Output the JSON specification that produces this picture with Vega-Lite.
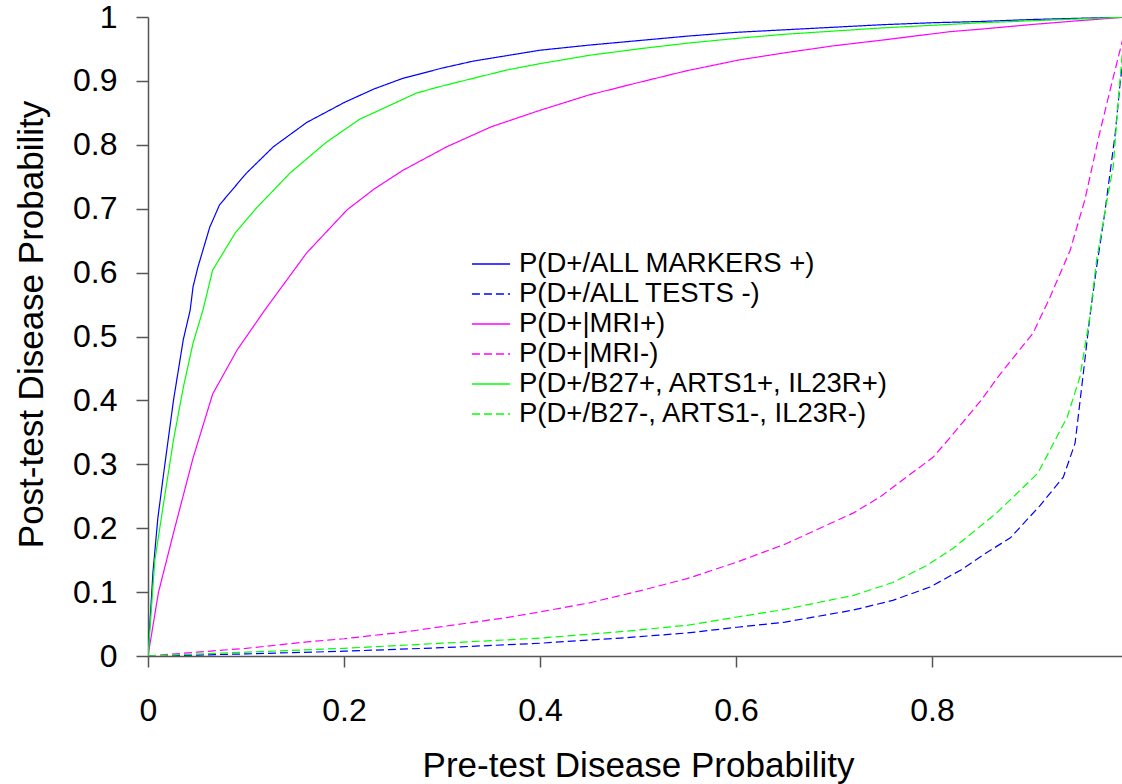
{
  "$schema": "https://vega.github.io/schema/vega-lite/v6.json",
  "autosize": {"type": "none"},
  "padding": {"left": 148, "top": 17, "right": 0, "bottom": 128},
  "width": 974,
  "height": 639,
  "background": "white",
  "config": {
    "view": {"stroke": null},
    "font": "Liberation Sans",
    "axis": {
      "domainColor": "#555555",
      "tickColor": "#555555",
      "domainWidth": 1.5,
      "tickWidth": 1.5,
      "grid": false,
      "labelFont": "Liberation Sans",
      "labelFontSize": 32,
      "labelColor": "black",
      "titleFont": "Liberation Sans",
      "titleFontSize": 35,
      "titleFontWeight": "normal",
      "titleColor": "black"
    },
    "legend": {
      "labelFont": "Liberation Sans",
      "labelFontSize": 27.5,
      "labelColor": "black",
      "labelLimit": 1000,
      "symbolType": "M-1.27,0H1.27",
      "symbolSize": 900,
      "symbolStrokeWidth": 1.3,
      "labelOffset": 12,
      "rowPadding": 0,
      "padding": 0
    }
  },
  "data": {
    "values": [
      {"s": "P(D+/ALL MARKERS +)", "p": 0, "q": 0},
      {"s": "P(D+/ALL MARKERS +)", "p": 0.005, "q": 0.13},
      {"s": "P(D+/ALL MARKERS +)", "p": 0.01, "q": 0.215},
      {"s": "P(D+/ALL MARKERS +)", "p": 0.016, "q": 0.286},
      {"s": "P(D+/ALL MARKERS +)", "p": 0.026, "q": 0.4},
      {"s": "P(D+/ALL MARKERS +)", "p": 0.036, "q": 0.495},
      {"s": "P(D+/ALL MARKERS +)", "p": 0.043, "q": 0.541},
      {"s": "P(D+/ALL MARKERS +)", "p": 0.046, "q": 0.578},
      {"s": "P(D+/ALL MARKERS +)", "p": 0.051, "q": 0.609},
      {"s": "P(D+/ALL MARKERS +)", "p": 0.063, "q": 0.671},
      {"s": "P(D+/ALL MARKERS +)", "p": 0.073, "q": 0.706},
      {"s": "P(D+/ALL MARKERS +)", "p": 0.1, "q": 0.755},
      {"s": "P(D+/ALL MARKERS +)", "p": 0.128, "q": 0.797},
      {"s": "P(D+/ALL MARKERS +)", "p": 0.162, "q": 0.835},
      {"s": "P(D+/ALL MARKERS +)", "p": 0.2, "q": 0.866},
      {"s": "P(D+/ALL MARKERS +)", "p": 0.23, "q": 0.887},
      {"s": "P(D+/ALL MARKERS +)", "p": 0.26, "q": 0.904},
      {"s": "P(D+/ALL MARKERS +)", "p": 0.3, "q": 0.92},
      {"s": "P(D+/ALL MARKERS +)", "p": 0.332, "q": 0.931},
      {"s": "P(D+/ALL MARKERS +)", "p": 0.4, "q": 0.948},
      {"s": "P(D+/ALL MARKERS +)", "p": 0.45, "q": 0.956},
      {"s": "P(D+/ALL MARKERS +)", "p": 0.5, "q": 0.963},
      {"s": "P(D+/ALL MARKERS +)", "p": 0.55, "q": 0.97},
      {"s": "P(D+/ALL MARKERS +)", "p": 0.6, "q": 0.976},
      {"s": "P(D+/ALL MARKERS +)", "p": 0.65, "q": 0.98},
      {"s": "P(D+/ALL MARKERS +)", "p": 0.7, "q": 0.984},
      {"s": "P(D+/ALL MARKERS +)", "p": 0.75, "q": 0.988},
      {"s": "P(D+/ALL MARKERS +)", "p": 0.8, "q": 0.991},
      {"s": "P(D+/ALL MARKERS +)", "p": 0.85, "q": 0.993},
      {"s": "P(D+/ALL MARKERS +)", "p": 0.9, "q": 0.996},
      {"s": "P(D+/ALL MARKERS +)", "p": 0.95, "q": 0.998},
      {"s": "P(D+/ALL MARKERS +)", "p": 1, "q": 1},

      {"s": "P(D+/ALL TESTS -)", "p": 0, "q": 0},
      {"s": "P(D+/ALL TESTS -)", "p": 0.05, "q": 0.0015},
      {"s": "P(D+/ALL TESTS -)", "p": 0.1, "q": 0.0033},
      {"s": "P(D+/ALL TESTS -)", "p": 0.2, "q": 0.0075},
      {"s": "P(D+/ALL TESTS -)", "p": 0.3, "q": 0.013},
      {"s": "P(D+/ALL TESTS -)", "p": 0.4, "q": 0.02},
      {"s": "P(D+/ALL TESTS -)", "p": 0.482, "q": 0.028},
      {"s": "P(D+/ALL TESTS -)", "p": 0.55, "q": 0.036},
      {"s": "P(D+/ALL TESTS -)", "p": 0.601, "q": 0.045},
      {"s": "P(D+/ALL TESTS -)", "p": 0.65, "q": 0.053},
      {"s": "P(D+/ALL TESTS -)", "p": 0.72, "q": 0.072},
      {"s": "P(D+/ALL TESTS -)", "p": 0.76, "q": 0.087},
      {"s": "P(D+/ALL TESTS -)", "p": 0.798, "q": 0.108},
      {"s": "P(D+/ALL TESTS -)", "p": 0.83, "q": 0.135},
      {"s": "P(D+/ALL TESTS -)", "p": 0.856, "q": 0.162},
      {"s": "P(D+/ALL TESTS -)", "p": 0.88, "q": 0.185},
      {"s": "P(D+/ALL TESTS -)", "p": 0.91, "q": 0.235},
      {"s": "P(D+/ALL TESTS -)", "p": 0.934, "q": 0.28},
      {"s": "P(D+/ALL TESTS -)", "p": 0.946, "q": 0.333},
      {"s": "P(D+/ALL TESTS -)", "p": 0.954, "q": 0.437},
      {"s": "P(D+/ALL TESTS -)", "p": 0.961, "q": 0.53},
      {"s": "P(D+/ALL TESTS -)", "p": 0.968, "q": 0.609},
      {"s": "P(D+/ALL TESTS -)", "p": 0.976, "q": 0.69},
      {"s": "P(D+/ALL TESTS -)", "p": 0.987, "q": 0.818},
      {"s": "P(D+/ALL TESTS -)", "p": 0.992, "q": 0.897},
      {"s": "P(D+/ALL TESTS -)", "p": 1, "q": 1},

      {"s": "P(D+|MRI+)", "p": 0, "q": 0},
      {"s": "P(D+|MRI+)", "p": 0.0106, "q": 0.099},
      {"s": "P(D+|MRI+)", "p": 0.0259, "q": 0.192},
      {"s": "P(D+|MRI+)", "p": 0.046, "q": 0.31},
      {"s": "P(D+|MRI+)", "p": 0.066, "q": 0.41},
      {"s": "P(D+|MRI+)", "p": 0.091, "q": 0.479},
      {"s": "P(D+|MRI+)", "p": 0.119, "q": 0.541},
      {"s": "P(D+|MRI+)", "p": 0.162, "q": 0.631},
      {"s": "P(D+|MRI+)", "p": 0.203, "q": 0.698},
      {"s": "P(D+|MRI+)", "p": 0.23, "q": 0.73},
      {"s": "P(D+|MRI+)", "p": 0.26, "q": 0.76},
      {"s": "P(D+|MRI+)", "p": 0.305, "q": 0.797},
      {"s": "P(D+|MRI+)", "p": 0.35, "q": 0.828},
      {"s": "P(D+|MRI+)", "p": 0.4, "q": 0.854},
      {"s": "P(D+|MRI+)", "p": 0.45, "q": 0.878},
      {"s": "P(D+|MRI+)", "p": 0.502, "q": 0.898},
      {"s": "P(D+|MRI+)", "p": 0.55, "q": 0.916},
      {"s": "P(D+|MRI+)", "p": 0.604, "q": 0.933},
      {"s": "P(D+|MRI+)", "p": 0.65, "q": 0.944},
      {"s": "P(D+|MRI+)", "p": 0.7, "q": 0.955},
      {"s": "P(D+|MRI+)", "p": 0.75, "q": 0.964},
      {"s": "P(D+|MRI+)", "p": 0.818, "q": 0.977},
      {"s": "P(D+|MRI+)", "p": 0.85, "q": 0.981},
      {"s": "P(D+|MRI+)", "p": 0.9, "q": 0.988},
      {"s": "P(D+|MRI+)", "p": 0.948, "q": 0.994},
      {"s": "P(D+|MRI+)", "p": 1, "q": 1},

      {"s": "P(D+|MRI-)", "p": 0, "q": 0},
      {"s": "P(D+|MRI-)", "p": 0.05, "q": 0.006},
      {"s": "P(D+|MRI-)", "p": 0.1, "q": 0.012},
      {"s": "P(D+|MRI-)", "p": 0.162, "q": 0.022},
      {"s": "P(D+|MRI-)", "p": 0.2, "q": 0.027},
      {"s": "P(D+|MRI-)", "p": 0.264, "q": 0.038},
      {"s": "P(D+|MRI-)", "p": 0.3, "q": 0.046},
      {"s": "P(D+|MRI-)", "p": 0.366, "q": 0.06},
      {"s": "P(D+|MRI-)", "p": 0.4, "q": 0.069},
      {"s": "P(D+|MRI-)", "p": 0.45, "q": 0.083},
      {"s": "P(D+|MRI-)", "p": 0.502, "q": 0.102},
      {"s": "P(D+|MRI-)", "p": 0.55, "q": 0.121},
      {"s": "P(D+|MRI-)", "p": 0.601, "q": 0.147},
      {"s": "P(D+|MRI-)", "p": 0.65, "q": 0.175},
      {"s": "P(D+|MRI-)", "p": 0.72, "q": 0.224},
      {"s": "P(D+|MRI-)", "p": 0.747, "q": 0.249},
      {"s": "P(D+|MRI-)", "p": 0.801, "q": 0.311},
      {"s": "P(D+|MRI-)", "p": 0.818, "q": 0.341},
      {"s": "P(D+|MRI-)", "p": 0.85, "q": 0.4},
      {"s": "P(D+|MRI-)", "p": 0.869, "q": 0.44},
      {"s": "P(D+|MRI-)", "p": 0.903, "q": 0.505},
      {"s": "P(D+|MRI-)", "p": 0.92, "q": 0.56},
      {"s": "P(D+|MRI-)", "p": 0.941, "q": 0.635},
      {"s": "P(D+|MRI-)", "p": 0.956, "q": 0.714},
      {"s": "P(D+|MRI-)", "p": 0.971, "q": 0.818},
      {"s": "P(D+|MRI-)", "p": 0.985, "q": 0.906},
      {"s": "P(D+|MRI-)", "p": 0.994, "q": 0.961},
      {"s": "P(D+|MRI-)", "p": 1, "q": 1},

      {"s": "P(D+/B27+, ARTS1+, IL23R+)", "p": 0, "q": 0},
      {"s": "P(D+/B27+, ARTS1+, IL23R+)", "p": 0.007, "q": 0.15},
      {"s": "P(D+/B27+, ARTS1+, IL23R+)", "p": 0.015, "q": 0.23},
      {"s": "P(D+/B27+, ARTS1+, IL23R+)", "p": 0.026, "q": 0.338},
      {"s": "P(D+/B27+, ARTS1+, IL23R+)", "p": 0.036, "q": 0.42},
      {"s": "P(D+/B27+, ARTS1+, IL23R+)", "p": 0.046, "q": 0.49},
      {"s": "P(D+/B27+, ARTS1+, IL23R+)", "p": 0.056, "q": 0.541},
      {"s": "P(D+/B27+, ARTS1+, IL23R+)", "p": 0.066, "q": 0.604},
      {"s": "P(D+/B27+, ARTS1+, IL23R+)", "p": 0.089, "q": 0.662},
      {"s": "P(D+/B27+, ARTS1+, IL23R+)", "p": 0.11, "q": 0.7},
      {"s": "P(D+/B27+, ARTS1+, IL23R+)", "p": 0.145, "q": 0.756},
      {"s": "P(D+/B27+, ARTS1+, IL23R+)", "p": 0.182, "q": 0.804},
      {"s": "P(D+/B27+, ARTS1+, IL23R+)", "p": 0.216, "q": 0.84},
      {"s": "P(D+/B27+, ARTS1+, IL23R+)", "p": 0.25, "q": 0.864},
      {"s": "P(D+/B27+, ARTS1+, IL23R+)", "p": 0.274, "q": 0.881},
      {"s": "P(D+/B27+, ARTS1+, IL23R+)", "p": 0.3, "q": 0.892},
      {"s": "P(D+/B27+, ARTS1+, IL23R+)", "p": 0.366, "q": 0.917},
      {"s": "P(D+/B27+, ARTS1+, IL23R+)", "p": 0.4, "q": 0.927},
      {"s": "P(D+/B27+, ARTS1+, IL23R+)", "p": 0.45, "q": 0.94},
      {"s": "P(D+/B27+, ARTS1+, IL23R+)", "p": 0.5, "q": 0.95},
      {"s": "P(D+/B27+, ARTS1+, IL23R+)", "p": 0.55, "q": 0.959},
      {"s": "P(D+/B27+, ARTS1+, IL23R+)", "p": 0.604, "q": 0.967},
      {"s": "P(D+/B27+, ARTS1+, IL23R+)", "p": 0.65, "q": 0.973},
      {"s": "P(D+/B27+, ARTS1+, IL23R+)", "p": 0.7, "q": 0.978},
      {"s": "P(D+/B27+, ARTS1+, IL23R+)", "p": 0.75, "q": 0.983},
      {"s": "P(D+/B27+, ARTS1+, IL23R+)", "p": 0.8, "q": 0.987},
      {"s": "P(D+/B27+, ARTS1+, IL23R+)", "p": 0.85, "q": 0.991},
      {"s": "P(D+/B27+, ARTS1+, IL23R+)", "p": 0.9, "q": 0.994},
      {"s": "P(D+/B27+, ARTS1+, IL23R+)", "p": 0.95, "q": 0.997},
      {"s": "P(D+/B27+, ARTS1+, IL23R+)", "p": 1, "q": 1},

      {"s": "P(D+/B27-, ARTS1-, IL23R-)", "p": 0, "q": 0},
      {"s": "P(D+/B27-, ARTS1-, IL23R-)", "p": 0.05, "q": 0.003},
      {"s": "P(D+/B27-, ARTS1-, IL23R-)", "p": 0.1, "q": 0.006},
      {"s": "P(D+/B27-, ARTS1-, IL23R-)", "p": 0.2, "q": 0.012},
      {"s": "P(D+/B27-, ARTS1-, IL23R-)", "p": 0.3, "q": 0.02},
      {"s": "P(D+/B27-, ARTS1-, IL23R-)", "p": 0.4, "q": 0.028},
      {"s": "P(D+/B27-, ARTS1-, IL23R-)", "p": 0.482, "q": 0.038},
      {"s": "P(D+/B27-, ARTS1-, IL23R-)", "p": 0.55, "q": 0.048},
      {"s": "P(D+/B27-, ARTS1-, IL23R-)", "p": 0.601, "q": 0.061},
      {"s": "P(D+/B27-, ARTS1-, IL23R-)", "p": 0.65, "q": 0.073},
      {"s": "P(D+/B27-, ARTS1-, IL23R-)", "p": 0.72, "q": 0.095},
      {"s": "P(D+/B27-, ARTS1-, IL23R-)", "p": 0.76, "q": 0.115},
      {"s": "P(D+/B27-, ARTS1-, IL23R-)", "p": 0.795, "q": 0.142},
      {"s": "P(D+/B27-, ARTS1-, IL23R-)", "p": 0.822, "q": 0.169},
      {"s": "P(D+/B27-, ARTS1-, IL23R-)", "p": 0.866, "q": 0.224},
      {"s": "P(D+/B27-, ARTS1-, IL23R-)", "p": 0.908, "q": 0.286},
      {"s": "P(D+/B27-, ARTS1-, IL23R-)", "p": 0.938, "q": 0.374},
      {"s": "P(D+/B27-, ARTS1-, IL23R-)", "p": 0.951, "q": 0.437},
      {"s": "P(D+/B27-, ARTS1-, IL23R-)", "p": 0.961, "q": 0.53},
      {"s": "P(D+/B27-, ARTS1-, IL23R-)", "p": 0.968, "q": 0.62},
      {"s": "P(D+/B27-, ARTS1-, IL23R-)", "p": 0.977, "q": 0.7},
      {"s": "P(D+/B27-, ARTS1-, IL23R-)", "p": 0.985, "q": 0.766},
      {"s": "P(D+/B27-, ARTS1-, IL23R-)", "p": 0.99, "q": 0.87},
      {"s": "P(D+/B27-, ARTS1-, IL23R-)", "p": 0.994, "q": 0.94},
      {"s": "P(D+/B27-, ARTS1-, IL23R-)", "p": 1, "q": 1}
    ]
  },
  "mark": {"type": "line", "clip": true, "strokeWidth": 1.2, "interpolate": "linear"},
  "encoding": {
    "x": {
      "field": "p",
      "type": "quantitative",
      "scale": {"domain": [0, 0.99388], "nice": false, "zero": false},
      "axis": {
        "title": "Pre-test Disease Probability",
        "values": [0, 0.2, 0.4, 0.6, 0.8, 1],
        "format": "~g",
        "tickSize": 11,
        "labelPadding": 28,
        "labelFlush": false,
        "labelOverlap": false,
        "titleX": 490,
        "titleY": 120,
        "titleBaseline": "alphabetic"
      }
    },
    "y": {
      "field": "q",
      "type": "quantitative",
      "scale": {"domain": [0, 1], "nice": false},
      "axis": {
        "title": "Post-test Disease Probability",
        "values": [0, 0.1, 0.2, 0.3, 0.4, 0.5, 0.6, 0.7, 0.8, 0.9, 1],
        "format": "~g",
        "tickSize": 12,
        "labelPadding": 19,
        "labelFlush": false,
        "labelOverlap": false,
        "titleX": -106,
        "titleY": 307,
        "titleBaseline": "alphabetic",
        "titleAngle": -90
      }
    },
    "color": {
      "field": "s",
      "type": "nominal",
      "scale": {
        "domain": ["P(D+/ALL MARKERS +)", "P(D+/ALL TESTS -)", "P(D+|MRI+)", "P(D+|MRI-)", "P(D+/B27+, ARTS1+, IL23R+)", "P(D+/B27-, ARTS1-, IL23R-)"],
        "range": ["#0000ff", "#0000ff", "#ff00ff", "#ff00ff", "#00ff00", "#00ff00"]
      },
      "legend": {"title": null, "orient": "none", "legendX": 327, "legendY": 231}
    },
    "strokeDash": {
      "field": "s",
      "type": "nominal",
      "scale": {
        "domain": ["P(D+/ALL MARKERS +)", "P(D+/ALL TESTS -)", "P(D+|MRI+)", "P(D+|MRI-)", "P(D+/B27+, ARTS1+, IL23R+)", "P(D+/B27-, ARTS1-, IL23R-)"],
        "range": [[1, 0], [8, 4], [1, 0], [8, 4], [1, 0], [8, 4]]
      },
      "legend": {"title": null, "orient": "none", "legendX": 327, "legendY": 231}
    }
  }
}
